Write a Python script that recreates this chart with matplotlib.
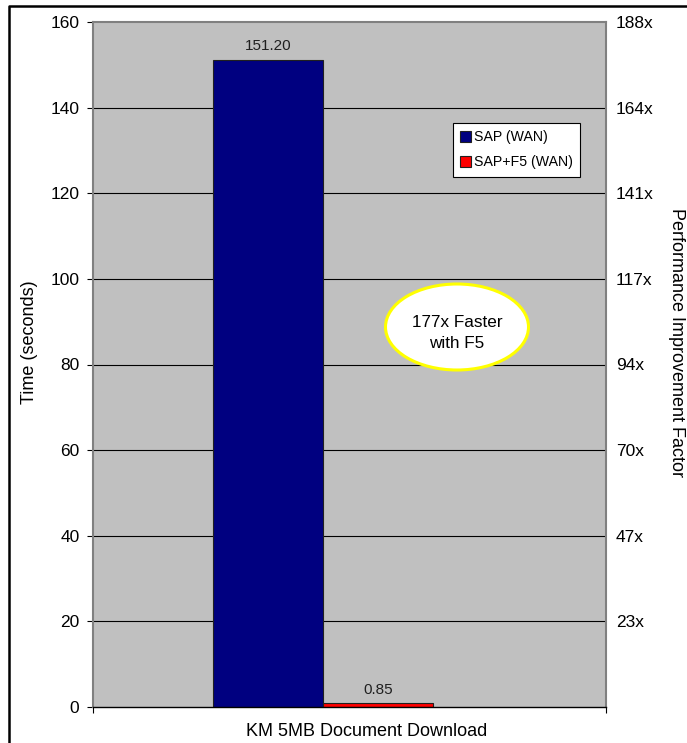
import matplotlib.pyplot as plt
from matplotlib.patches import Ellipse
from matplotlib.lines import Line2D

plt.rcParams['font.family'] = ['Liberation Sans', 'DejaVu Sans']

category = "KM 5MB Document Download"
series_names = ["SAP (WAN)", "SAP+F5 (WAN)"]
series_values = [151.20, 0.85]
series_colors = ["#000080", "#FF0000"]
y_ticks = [0, 20, 40, 60, 80, 100, 120, 140, 160]
right_ticks = [20, 40, 60, 80, 100, 120, 140, 160]
right_labels = ["23x", "47x", "70x", "94x", "117x", "141x", "164x", "188x"]
callout = "177x Faster\nwith F5"

W, H = 687, 743
fig = plt.figure(figsize=(W / 100, H / 100), dpi=100)
fig.patch.set_facecolor("white")

# plot area in pixel terms
L, R, T, B = 93, 606, 22, 707
ax = fig.add_axes([L / W, 1 - B / H, (R - L) / W, (B - T) / H])
ax.set_facecolor("#C0C0C0")

bar_w = 0.214
x0 = 0
for i, (name, val, col) in enumerate(zip(series_names, series_values, series_colors)):
    xpos = x0 + (i - 0.5) * bar_w
    ax.bar(xpos, val, width=bar_w, color=col, edgecolor="#202020",
           linewidth=0.8, label=name, zorder=3)
    ax.text(xpos, val + 1.6, f"{val:.2f}", ha="center", va="bottom",
            fontsize=11, color="#202020", zorder=4)

ax.set_xlim(-0.448, 0.552)
ax.set_ylim(0, 160)
ax.set_yticks(y_ticks)
ax.set_xticks([-0.448, 0.552])
ax.set_xticklabels([])
ax.tick_params(axis="y", direction="out", length=4.3, width=0.8,
               pad=5.5, labelsize=12.5, colors="black")
ax.tick_params(axis="x", direction="out", length=4, width=0.8)

for v in y_ticks[1:-1]:
    ax.axhline(v, color="black", linewidth=0.8, zorder=1)

for s in ["top", "right", "left"]:
    ax.spines[s].set_color("#808080")
    ax.spines[s].set_linewidth(1.5)
ax.spines["bottom"].set_color("black")
ax.spines["bottom"].set_linewidth(1.0)
ax.spines["bottom"].set_zorder(5)

ax2 = ax.twinx()
ax2.set_ylim(0, 160)
ax2.set_yticks(right_ticks)
ax2.set_yticklabels(right_labels)
ax2.tick_params(axis="y", length=0, pad=7, labelsize=12.5)
for s in ax2.spines.values():
    s.set_visible(False)

leg = ax.legend(loc="upper left", bbox_to_anchor=((453 - L) / (R - L), (B - 123) / (B - T)),
                borderaxespad=0, fontsize=10.2, frameon=True, fancybox=False,
                edgecolor="black", framealpha=1, handlelength=0.8, handleheight=0.8,
                handletextpad=0.2, labelspacing=0.8, borderpad=0.5)
leg.get_frame().set_linewidth(0.8)
leg.set_zorder(6)

ell = Ellipse(((457 - L) / (R - L), (B - 327) / (B - T)), 143 / (R - L), 86 / (B - T),
              transform=ax.transAxes, facecolor="white", edgecolor="#FFFF00",
              linewidth=2.2, zorder=6)
ax.add_patch(ell)
ax.text((457 - L) / (R - L), (B - 333) / (B - T), callout, transform=ax.transAxes,
        ha="center", va="center", fontsize=12.3, linespacing=1.5, zorder=7)

fig.text(29 / W, 1 - 342 / H, "Time (seconds)", rotation=90, ha="center",
         va="center", fontsize=13)
fig.text(677 / W, 1 - 342 / H, "Performance Improvement Factor", rotation=270,
         ha="center", va="center", fontsize=13)
fig.text(367 / W, 1 - 731 / H, category, ha="center", va="center", fontsize=13)

# outer frame (cut off at right and bottom)
fig.add_artist(Line2D([8.5 / W, 8.5 / W, 1.01], [-0.01, 1 - 6 / H, 1 - 6 / H],
                      transform=fig.transFigure, color="black", linewidth=1.8))

fig.savefig("out.png", dpi=100)
